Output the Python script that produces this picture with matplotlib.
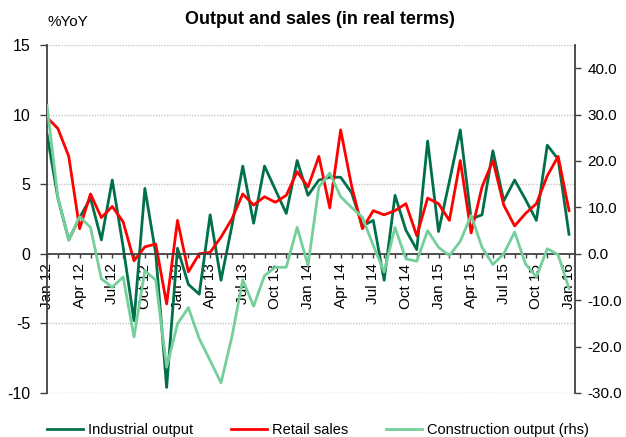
import numpy as np
import pandas as pd
import matplotlib
matplotlib.use("Agg")
import matplotlib.pyplot as plt
from matplotlib.ticker import MultipleLocator, FixedLocator, FuncFormatter

plt.rcParams['font.family'] = ['Liberation Sans', 'DejaVu Sans']
plt.rcParams['axes.unicode_minus'] = False

# Monthly data, Jan 12 .. Jan 16
months = pd.date_range("2012-01-01", "2016-01-01", freq="MS")

industrial = [8.6, 4.0, 1.0, 2.6, 4.0, 1.0, 5.3, 0.5, -4.8, 4.7, 0.0, -9.6, 0.4,
              -2.2, -2.9, 2.8, -1.9, 2.0, 6.3, 2.2, 6.3, 4.6, 2.9, 6.7, 4.2,
              5.3, 5.5, 5.5, 4.4, 2.0, 2.4, -1.9, 4.2, 1.7, 0.3, 8.1, 1.6,
              5.2, 8.9, 2.5, 2.8, 7.4, 3.8, 5.3, 3.9, 2.4, 7.8, 6.8, 1.4]

retail = [9.8, 9.0, 7.0, 1.8, 4.3, 2.6, 3.4, 2.3, -0.5, 0.5, 0.7, -3.6, 2.4,
          -1.3, 0.0, 0.1, 1.2, 2.5, 4.3, 3.5, 4.1, 3.7, 4.2, 5.9, 4.8,
          7.0, 3.3, 8.9, 4.9, 1.8, 3.1, 2.8, 3.1, 3.6, 1.3, 4.0, 3.6,
          2.4, 6.7, 1.5, 4.8, 6.7, 3.5, 2.0, 2.9, 3.6, 5.6, 7.0, 3.1]

construction = [32.0, 12.2, 2.9, 8.0, 5.7, -5.4, -7.2, -5.0, -17.9, -3.6, -5.7, -24.4, -15.1,
                -11.6, -18.3, -23.0, -27.8, -17.9, -5.6, -11.3, -4.7, -2.9, -2.9, 5.7, -2.5,
                14.4, 17.4, 12.3, 10.0, 7.9, 1.8, -3.9, 5.7, -1.1, -1.6, 5.0, 1.4,
                -0.4, 2.7, 8.3, 1.4, -2.3, 0.0, 4.7, -2.2, -5.0, 1.1, -0.2, -7.5]

tick_labels = [d.strftime("%b %y") for d in months[::3]]

c_ind = "#00704A"
c_ret = "#FF0000"
c_con = "#74CF9A"
axis_col = "#404040"

fig = plt.figure(figsize=(6.26, 4.37), dpi=100)
ax = fig.add_axes([47/626, 1-393/437, 528/626, 348/437])
ax2 = ax.twinx()

x = np.arange(len(months))
ax.plot(x, industrial, color=c_ind, lw=2, label="Industrial output")
ax.plot(x, retail, color=c_ret, lw=2, label="Retail sales")
ax2.plot(x, construction, color=c_con, lw=2, label="Construction output (rhs)")

ax.set_xlim(0, 48.55)
ax.set_ylim(-10, 15)
ax2.set_ylim(-30, 45)

# left axis
ax.yaxis.set_major_locator(MultipleLocator(5))
ax.tick_params(axis='y', direction='out', length=5, width=1, color=axis_col,
               labelsize=11.5, pad=7)
for v in [-10, -5, 5, 10, 15]:
    ax.axhline(v, color="#c8c8c8", lw=1, ls=(0, (1, 1)), zorder=0)

# right axis
ax2.yaxis.set_major_locator(FixedLocator(np.arange(-30, 41, 10)))
ax2.yaxis.set_major_formatter(FuncFormatter(lambda v, p: f"{v:.1f}"))
ax2.tick_params(axis='y', direction='out', length=4, width=1, color=axis_col,
                labelsize=11, pad=5)

# x axis drawn at zero
ax.spines['bottom'].set_position(('data', 0))
ax.spines['bottom'].set_color(axis_col)
ax.spines['bottom'].set_linewidth(1.3)
ax.xaxis.set_major_locator(FixedLocator(x[::3]))
ax.xaxis.set_minor_locator(FixedLocator(x))
ax.set_xticklabels(tick_labels, rotation=90, fontsize=11)
ax.tick_params(axis='x', which='both', direction='out', length=3, width=1,
               color=axis_col, pad=4)

for a in (ax, ax2):
    a.spines['top'].set_visible(False)
    a.set_facecolor("none")
ax2.spines['bottom'].set_visible(False)
ax.spines['left'].set_color(axis_col)
ax.spines['left'].set_linewidth(1.3)
ax2.spines['right'].set_color(axis_col)
ax2.spines['right'].set_linewidth(1.3)
ax2.spines['left'].set_visible(False)
ax.spines['right'].set_visible(False)

fig.text(47/626, 1-22/437, "%YoY", fontsize=11, va='center', ha='left')
fig.text(320/626, 1-20/437, "Output and sales (in real terms)", fontsize=13,
         fontweight='bold', va='center', ha='center')

handles = ax.get_lines()[:2] + ax2.get_lines()[:1]
fig.legend(handles, [h.get_label() for h in handles], loc='center left',
           bbox_to_anchor=(47/626, 1-430/437), ncol=3, frameon=False,
           fontsize=10.5, handlelength=2.5, handletextpad=0.3,
           columnspacing=2.6, borderpad=0, borderaxespad=0)

fig.savefig("out.png", dpi=100)
